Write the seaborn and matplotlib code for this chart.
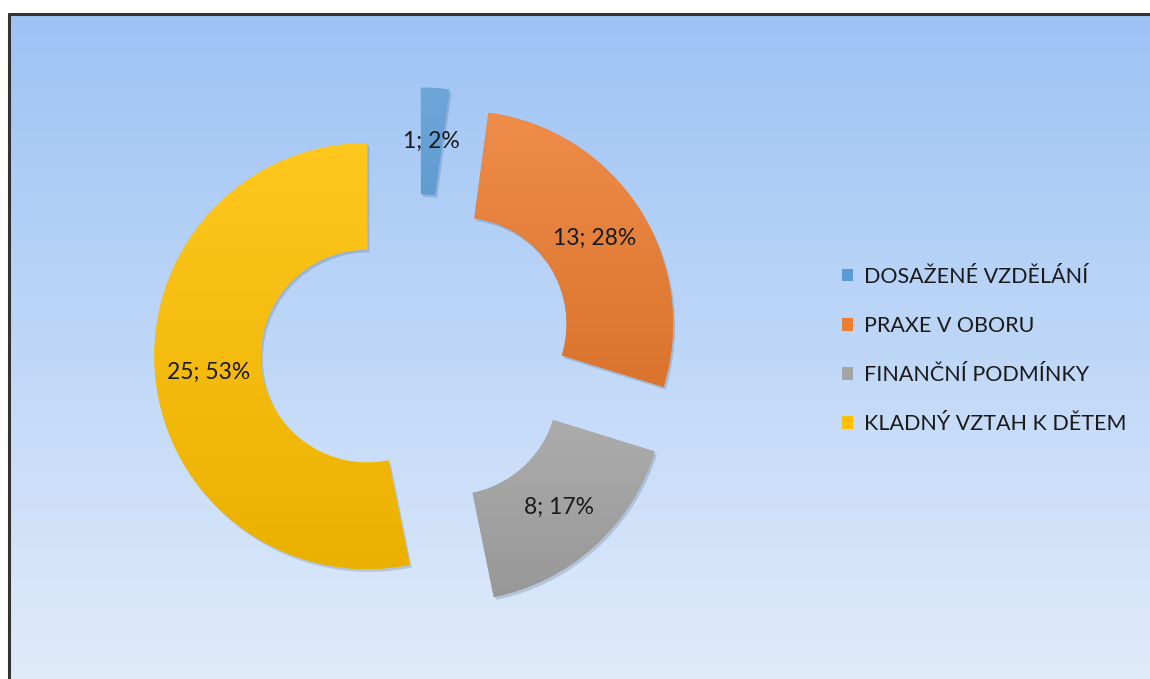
import numpy as np
import matplotlib
matplotlib.use("Agg")
import matplotlib.pyplot as plt
import matplotlib.colors as mcolors
import matplotlib.patheffects as pe
from matplotlib.patches import Patch
from matplotlib.lines import Line2D
import seaborn as sns

# ===============================
# Data
# ===============================
categories = ["DOSAŽENÉ VZDĚLÁNÍ", "PRAXE V OBORU", "FINANČNÍ PODMÍNKY", "KLADNÝ VZTAH K DĚTEM"]
counts = [1, 13, 8, 25]
colors_hex = ["#5B9BD5", "#ED7D31", "#A5A5A5", "#FFC000"]

total = sum(counts)

sns.set_theme(style="white")
plt.rcParams["font.family"] = ["Lato", "DejaVu Sans"]
palette = sns.color_palette(colors_hex)

W, H = 1150, 679
fig = plt.figure(figsize=(W / 100, H / 100), dpi=100)
fig.patch.set_facecolor("white")

# ===============================
# Background panel: pixel-exact vertical gradient, top/left border
# ===============================
bx, by = 9, 14
top_c = np.array(mcolors.to_rgb("#9DC3F5"))
bot_c = np.array(mcolors.to_rgb("#E0EBFA"))
tt = np.linspace(0, 1, H - by)[:, None, None]
panel = np.broadcast_to(top_c * (1 - tt) + bot_c * tt, (H - by, W - bx, 3))
fig.figimage(np.ascontiguousarray(panel), xo=bx, yo=0, origin="upper", zorder=-1)

fig.add_artist(Line2D([bx / W, bx / W], [0, 1 - by / H], color="#333333",
                      linewidth=2.2, transform=fig.transFigure))
fig.add_artist(Line2D([bx / W, 1], [1 - by / H, 1 - by / H], color="#333333",
                      linewidth=2.2, transform=fig.transFigure))

# ===============================
# Exploded donut
# ===============================
cx, cy, R = 417.5, 351, 213  # pie centre and radius in pixels
ax = fig.add_axes([0, 0, 1, 1])
ax.patch.set_alpha(0)


def label_fmt(p):
    return f"{round(p * total / 100)}; {p:.0f}%"


wedges, texts, autotexts = ax.pie(
    counts,
    colors=palette,
    startangle=90,
    counterclock=False,
    explode=[0.237] * len(counts),
    autopct=label_fmt,
    pctdistance=0.75,
    wedgeprops=dict(width=0.5, linewidth=0),
    textprops=dict(fontsize=16.5, color="#1a1a1a"),
)

t = np.linspace(0, 1, 256)[:, None, None]
for w, base in zip(wedges, palette):
    base = np.array(base)
    light = base + (1 - base) * 0.12
    dark = base * 0.92
    g = light * (1 - t) + dark * t
    verts = w.get_path().vertices
    x0, y0 = verts.min(axis=0)
    x1, y1 = verts.max(axis=0)
    im = ax.imshow(g, extent=(x0, x1, y0, y1), aspect="auto", zorder=1.5,
                   origin="upper")
    im.set_clip_path(w)
    w.set_path_effects([
        pe.SimplePatchShadow(offset=(1.5, -2), shadow_rgbFace="#1f3550", alpha=0.18),
        pe.Normal(),
    ])

for at in autotexts:
    at.set_zorder(3)

ax.set_xlim(-cx / R, (W - cx) / R)
ax.set_ylim(-(H - cy) / R, cy / R)
ax.set_aspect("equal")
ax.axis("off")

# ===============================
# Legend
# ===============================
handles = [Patch(facecolor=c, edgecolor="none") for c in palette]
leg = ax.legend(
    handles, categories,
    loc="upper left",
    bbox_to_anchor=(842 / W, 1 - 267 / H),
    bbox_transform=fig.transFigure,
    frameon=False,
    fontsize=15.5,
    handlelength=0.5,
    handleheight=0.5,
    handletextpad=0.52,
    labelspacing=1.35,
    borderpad=0,
    borderaxespad=0,
)
for txt in leg.get_texts():
    txt.set_color("#1a1a1a")

plt.savefig("out.png", dpi=100)
plt.close()
